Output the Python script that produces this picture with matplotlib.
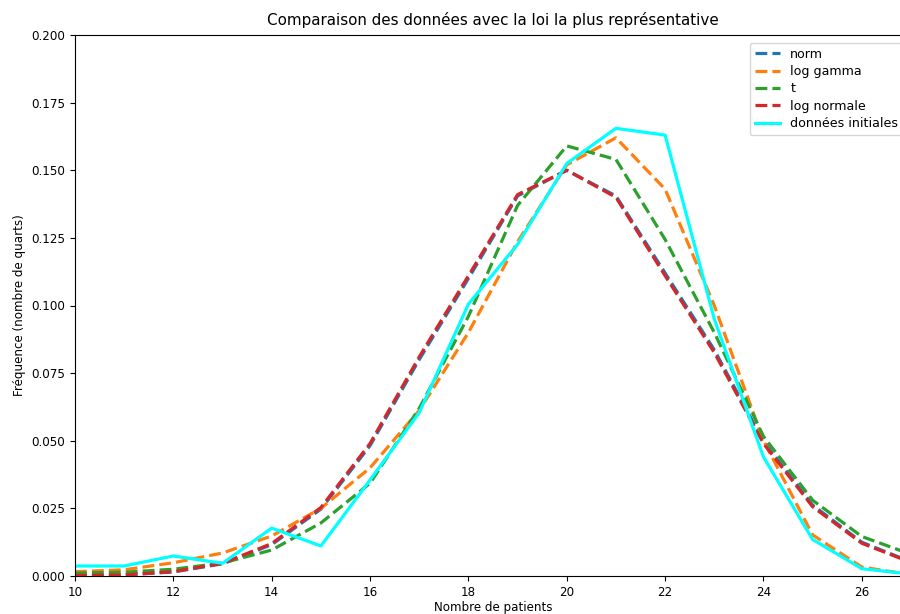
import matplotlib
matplotlib.use("Agg")
import matplotlib.pyplot as plt

x = list(range(10, 28))
norm_vals = [0.0002, 0.0004, 0.0015, 0.0045, 0.0116, 0.0247, 0.0482, 0.0800, 0.1100, 0.1405,
             0.1500, 0.1405, 0.1120, 0.0836, 0.0498, 0.0262, 0.0125, 0.0052]
loggamma_vals = [0.0016, 0.0023, 0.0049, 0.0085, 0.0148, 0.0250, 0.0400, 0.0612, 0.0900, 0.1236,
                 0.1520, 0.1620, 0.1430, 0.1000, 0.0500, 0.0152, 0.0033, 0.0005]
t_vals = [0.0011, 0.0014, 0.0025, 0.0048, 0.0096, 0.0196, 0.0343, 0.0620, 0.0960, 0.1370,
          0.1590, 0.1540, 0.1244, 0.0900, 0.0516, 0.0280, 0.0146, 0.0080]
lognorm_vals = [0.0002, 0.0004, 0.0016, 0.0047, 0.0120, 0.0253, 0.0490, 0.0810, 0.1110, 0.1410,
                0.1500, 0.1400, 0.1110, 0.0826, 0.0490, 0.0256, 0.0121, 0.0050]
data_vals = [0.0037, 0.0037, 0.0074, 0.0047, 0.0177, 0.0111, 0.0355, 0.0604, 0.1005, 0.1226,
             0.1525, 0.1655, 0.1630, 0.0950, 0.0440, 0.0135, 0.0027, 0.0007]

labels = ["norm", "log gamma", "t", "log normale", "données initiales"]
colors = ["#1f77b4", "#ff7f0e", "#2ca02c", "#d62728", "#00ffff"]

fig = plt.figure(figsize=(9, 6.14), dpi=100)
ax = fig.add_axes([75/900, 1-576/614, (911-75)/900, (576-35)/614])

lw = 2.3
for vals, lab, c in zip([norm_vals, loggamma_vals, t_vals, lognorm_vals], labels[:4], colors[:4]):
    ax.plot(x, vals, linestyle="--", color=c, lw=lw, label=lab)
ax.plot(x, data_vals, color=colors[4], lw=lw, label=labels[4])

ax.set_xlim(10, 27)
ax.set_ylim(0, 0.2)
ax.set_xticks(range(10, 27, 2))
ax.set_yticks([0, 0.025, 0.05, 0.075, 0.1, 0.125, 0.15, 0.175, 0.2])
ax.set_yticklabels(["0.000", "0.025", "0.050", "0.075", "0.100", "0.125", "0.150", "0.175", "0.200"])
ax.tick_params(labelsize=8.6)
ax.set_title("Comparaison des données avec la loi la plus représentative", fontsize=10.9, pad=7)
ax.set_xlabel("Nombre de patients", fontsize=8.6, labelpad=2)
ax.set_ylabel("Fréquence (nombre de quarts)", fontsize=8.6)
ax.legend(loc="upper right", fontsize=9.1, labelspacing=0.35, borderaxespad=0.6)

fig.savefig("out.png", dpi=100)
